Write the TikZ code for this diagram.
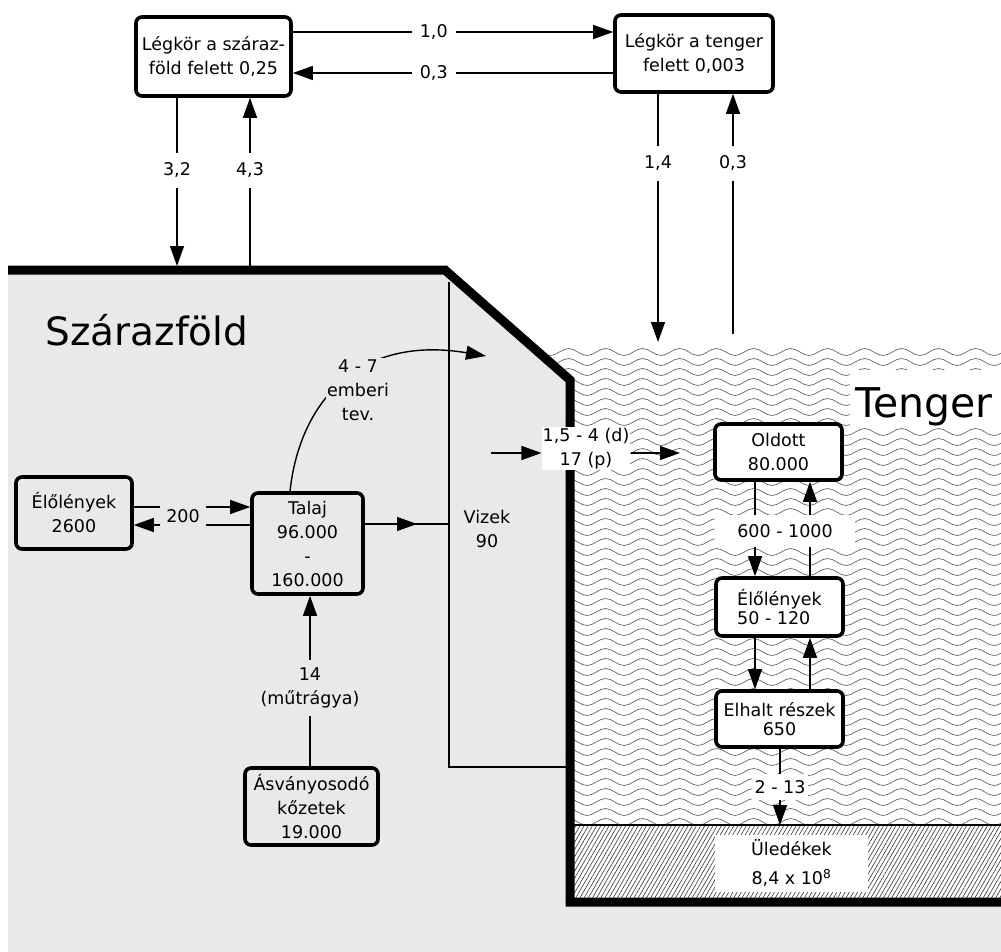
\documentclass[tikz,border=0pt]{standalone}
\usepackage{fontspec}
\setmainfont{DejaVu Sans}
\usepackage{tikz}
\usetikzlibrary{arrows.meta,calc,decorations.pathmorphing,patterns.meta}

\definecolor{landgray}{RGB}{232,234,232}
\newcommand{\boxfont}{\fontsize{17.5}{24}\selectfont}
\newcommand{\tightfont}{\fontsize{17.5}{19.5}\selectfont}
\newcommand{\regionfont}{\fontsize{41}{48}\selectfont}
\newcommand{\landfont}{\fontsize{39}{46}\selectfont}

\begin{document}
\begin{tikzpicture}[
    x=1pt, y=-1pt,
    box/.style={
        draw,
        line width=3.6pt,
        rounded corners=6pt,
        align=center,
        font=\boxfont,
        inner sep=0pt
    },
    landbox/.style={box, fill=landgray},
    whitebox/.style={box, fill=white},
    tightbox/.style={whitebox, font=\tightfont},
    lbl/.style={fill=white, align=center, font=\boxfont, inner xsep=8pt, inner ysep=10pt},
    landlbl/.style={lbl, fill=landgray},
    flow/.style={line width=1.4pt},
    arrow/.style={flow, -{Triangle[length=20pt, width=14pt]}},
    wave/.style={draw=black!60, line width=0.7pt, decorate,
        decoration={snake, segment length=37pt, amplitude=3.5pt}}
]
\useasboundingbox (0,0) rectangle (1001,952);

% land, sea, sediment
\fill[landgray] (8,270) -- (445,270) -- (570,380) -- (570,902) -- (1001,902) -- (1001,952) -- (8,952) -- cycle;
\begin{scope}
    \clip (533,348) -- (1001,348) -- (1001,825) -- (570,825) -- (570,380) -- cycle;
    \foreach \y in {352,362,...,822}
        \draw[wave] (520,\y) -- (1010,\y);
\end{scope}
\fill[pattern={Lines[angle=60, distance=3.6pt, line width=0.6pt]}, pattern color=black!80] (570,825) rectangle (1001,902);
\draw[flow] (570,825) -- (1001,825);
\draw[line width=9pt] (8,270) -- (445,270) -- (570,380) -- (570,902) -- (1001,902);

\node[font=\landfont, anchor=base west] (land) at (42,345) {Szárazföld};
\fill[white] (850,370) rectangle (1001,427);
\node[font=\regionfont, anchor=base west, inner sep=0pt] (sea) at (855,417) {Tenger};

% reservoirs
\node[whitebox, minimum width=155, minimum height=79] (atmland) at (213.5,56.5) {Légkör a száraz-\\föld felett 0,25};
\node[whitebox, minimum width=158, minimum height=77] (atmsea) at (694,53.5) {Légkör a tenger\\felett 0,003};
\node[landbox, minimum width=116, minimum height=72] (landbio) at (74,513) {Élőlények\\2600};
\node[landbox, minimum width=111, minimum height=101] (talaj) at (307.5,543.5) {Talaj\\96.000\\-\\160.000};
\node[landbox, minimum width=133, minimum height=77] (rock) at (311.5,806.5) {Ásványosodó\\kőzetek\\19.000};
\node[whitebox, minimum width=127, minimum height=56] (oldott) at (778.5,452) {Oldott\\80.000};
\node[tightbox, align=left, minimum width=127, minimum height=58] (seabio) at (779.5,607) {Élőlények\\50 - 120};
\node[tightbox, minimum width=127, minimum height=56] (dead) at (779.5,719) {Elhalt részek\\650};
\node[fill=white, font=\boxfont, align=center, minimum width=153, minimum height=57] (sed) at (791.5,863.5) {Üledékek\\[5pt]8,4 x 10\textsuperscript{8}};
\node[font=\boxfont, align=center] (vizek) at (487,529) {Vizek\\90};

% free ends
\coordinate (landA) at (177,266);
\coordinate (landB) at (250,266);
\coordinate (seaA) at (658,342);
\coordinate (seaB) at (733,334);
\coordinate (vtop) at (449,282);
\coordinate (vbot) at (449,767);
\coordinate (vend) at (567,767);
\coordinate (vjoin) at (449,524);
\coordinate (vtip) at (417,524);
\coordinate (vout) at (491,453);
\coordinate (sein) at (680,453);
\coordinate (humtip) at (486,356);
\coordinate (sedtop) at (780,825);

% atmosphere
\draw[arrow] (atmland.east |- 0,32) -- node[lbl, pos=0.44] {1,0} (atmsea.west |- 0,32);
\draw[arrow] (atmsea.west |- 0,73) -- node[lbl, pos=0.56] {0,3} (atmland.east |- 0,73);
\draw[arrow] (atmland.south -| landA) -- node[lbl, pos=0.43] {3,2} (landA);
\draw[arrow] (landB) -- node[lbl, pos=0.57] {4,3} (atmland.south -| landB);
\draw[arrow] (atmsea.south -| seaA) -- node[lbl, pos=0.28] {1,4} (seaA);
\draw[arrow] (seaB) -- node[lbl, pos=0.71] {0,3} (atmsea.south -| seaB);

% land
\draw[arrow] (landbio.east |- 0,507) -- (talaj.west |- 0,507);
\draw[arrow] (talaj.west |- 0,525) -- (landbio.east |- 0,525);
\node[landlbl, inner xsep=6pt] (l200) at (183,516) {200};
\draw[arrow] (rock.north -| 310,0) -- node[landlbl, pos=0.46, inner ysep=8pt] {14\\(műtrágya)} (talaj.south -| 310,0);
\draw[flow] (vtop) -- (vbot) -- (vend);
\draw[flow] (talaj.east |- vjoin) -- (vjoin);
\draw[arrow] (talaj.east |- vjoin) -- (vtip);
\draw[arrow] (talaj.north -| 290,0) .. controls (300,400) and (360,335) .. (humtip);
\node[landlbl, inner sep=1pt] (human) at (358,390) {4 - 7\\emberi\\tev.};

% river mouth
\node[lbl, inner sep=1pt] (mouth) at (586,448.5) {1,5 - 4 (d)\\17 (p)};
\draw[arrow] (vout) -- (mouth.west |- vout);
\draw[arrow] (mouth.east |- vout) -- (sein);

% sea
\draw[arrow] (oldott.south -| 755,0) -- (seabio.north -| 755,0);
\draw[arrow] (seabio.north -| 810,0) -- (oldott.south -| 810,0);
\node[lbl, inner xsep=22pt, inner ysep=9pt] (l600) at (785,531) {600 - 1000};
\draw[arrow] (seabio.south -| 755,0) -- (dead.north -| 755,0);
\draw[arrow] (dead.north -| 810,0) -- (seabio.south -| 810,0);
\draw[arrow] (dead.south -| sedtop) -- node[lbl, inner xsep=3pt, inner ysep=6pt] {2 - 13} (sedtop);
\end{tikzpicture}
\end{document}
